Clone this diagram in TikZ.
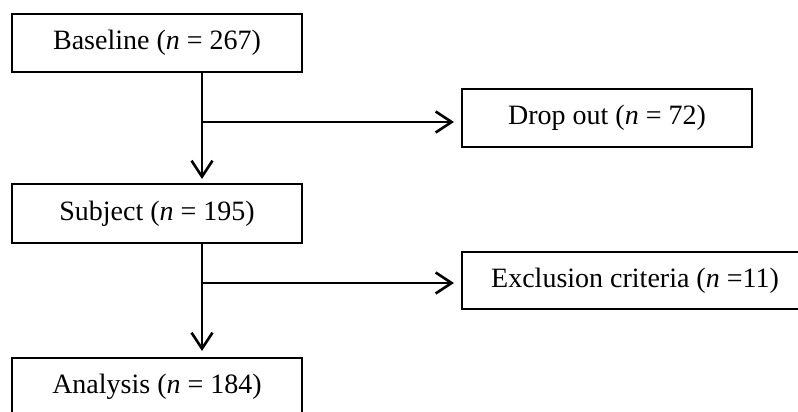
\documentclass[tikz,border=0pt]{standalone}
\usepackage{fontspec}
\setmainfont{Liberation Serif}
\usetikzlibrary{arrows.meta}
\begin{document}
\begin{tikzpicture}[x=1pt,y=-1pt,
  box/.style={draw=black, line width=2pt, fill=white, inner sep=0pt, outer sep=0pt,
    font=\fontsize{28}{32}\selectfont, anchor=center},
  conn/.style={line width=2.6pt, line cap=butt},
  arr/.style={conn, -{Straight Barb[length=16pt,width=21pt,line width=2.6pt]}}]
\useasboundingbox (0,0) rectangle (798,412);
\clip (0,0) rectangle (798,412);
\node[box, minimum width=290pt, minimum height=58pt] (base) at (157,43) {Baseline (\textit{n} = 267)};
\node[box, minimum width=290pt, minimum height=58pt] (drop) at (607,118) {Drop out (\textit{n} = 72)};
\node[box, minimum width=290pt, minimum height=59pt] (subj) at (157,213.5) {Subject (\textit{n} = 195)};
\node[box, minimum width=346pt, minimum height=57pt] (excl) at (635,280.5) {Exclusion criteria (\textit{n} =11)};
\node[box, minimum width=290pt, minimum height=58pt] (anal) at (157,387) {Analysis (\textit{n} = 184)};
\coordinate (v) at (202,0);
\coordinate (b1) at (202,122);
\coordinate (b2) at (202,283);
\draw[arr, shorten >=-1pt] (base.south -| v) -- ([yshift=6pt]subj.north -| v);
\draw[arr] (b1) -- ([xshift=-8pt]drop.west |- b1);
\draw[arr, shorten >=-1pt] (subj.south -| v) -- ([yshift=8pt]anal.north -| v);
\draw[arr] (b2) -- ([xshift=-8pt]excl.west |- b2);
\end{tikzpicture}
\end{document}
